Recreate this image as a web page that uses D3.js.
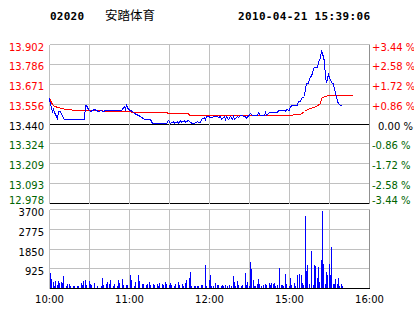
<!DOCTYPE html>
<html>
<head>
<meta charset="utf-8">
<script src="https://cdn.jsdelivr.net/npm/d3@7"></script>
<style>
body { margin: 0; background: #fff; }
svg { display: block; }
</style>
</head>
<body>
<svg id="chart" width="414" height="314"></svg>
<script>
const stockCode = "02020", stockName = "安踏体育", stamp = "2010-04-21 15:39:06";
const prevClose = 13.440;
const priceTicks = [13.902, 13.786, 13.671, 13.556, 13.440, 13.324, 13.209, 13.093, 12.978];
const pctTicks = ["+3.44 %", "+2.58 %", "+1.72 %", "+0.86 %", "0.00 %", "-0.86 %", "-1.72 %", "-2.58 %", "-3.44 %"];
const volTicks = [3700, 2775, 1850, 925];
const timeTicks = ["10:00", "11:00", "12:00", "15:00", "16:00"];

// last price, minute points
const priceTimes = ["10:00","10:01","10:02","10:03","10:04","10:06","10:07","10:08","10:09","10:11","10:12","10:26","10:27","10:28","10:29","10:31","10:34","10:37","10:39","10:40","10:43","10:54","10:56","10:57","10:58","10:59",
  "11:02","11:04","11:08","11:11","11:16","11:17","11:28","11:29","11:31","11:33","11:34","11:36","11:37","11:38","11:39","11:41","11:42","11:43","11:44","11:46","11:47","11:49","11:51","11:52","11:53","11:54","11:56","11:57","11:58",
  "12:02","12:03","12:06","12:07","12:08","12:09","12:11","12:12","12:13","12:14","12:16","12:17","12:18","12:19","12:21","12:22","12:23","12:27","12:28",
  "14:31","14:32","14:36","14:37","14:38","14:41","14:42","14:43","14:45","14:51","14:52","14:56","14:57","14:58",
  "15:00","15:01","15:02","15:06","15:07","15:08","15:09","15:11","15:12","15:13","15:14","15:15","15:16","15:17","15:18","15:19","15:21","15:22","15:23","15:24","15:25","15:26","15:27","15:28","15:29","15:30","15:31","15:32","15:33","15:34","15:35","15:36","15:37","15:38","15:39"];
const prices = [13.587,13.556,13.513,13.523,13.506,13.471,13.511,13.511,13.494,13.469,13.465,13.465,13.546,13.546,13.523,13.511,13.523,13.511,13.519,13.511,13.519,13.519,13.542,13.523,13.546,13.523,
  13.513,13.500,13.482,13.469,13.465,13.442,13.442,13.461,13.442,13.455,13.442,13.455,13.442,13.461,13.447,13.461,13.447,13.455,13.461,13.447,13.442,13.442,13.455,13.447,13.447,13.469,13.475,13.469,13.481,
  13.478,13.484,13.484,13.475,13.484,13.465,13.484,13.469,13.484,13.469,13.484,13.469,13.484,13.469,13.484,13.475,13.488,13.484,13.471,
  13.500,13.490,13.490,13.504,13.490,13.490,13.504,13.490,13.506,13.506,13.519,13.519,13.510,13.523,
  13.519,13.542,13.548,13.548,13.568,13.568,13.587,13.597,13.645,13.674,13.674,13.703,13.713,13.732,13.761,13.771,13.771,13.800,13.829,13.866,13.848,13.805,13.713,13.684,13.727,13.713,13.693,13.674,13.674,13.640,13.597,13.568,13.558,13.548,13.548];

// average price
const avgTimes = ["10:00","10:02","10:04","10:07","10:09","10:13","10:20","11:00","11:02","11:28","11:29","11:44","11:45","15:00","15:05","15:08","15:11","15:12","15:16","15:20","15:23","15:24","15:26","15:30","15:47"];
const avgPrices = [13.587,13.552,13.542,13.533,13.529,13.523,13.517,13.513,13.508,13.508,13.499,13.499,13.491,13.491,13.493,13.495,13.510,13.519,13.529,13.539,13.558,13.587,13.600,13.606,13.606];

// volume per trading minute, starting 10:00
const volumes = [680,440,300,110,350,160,350,240,285,240,
  540,0,110,205,205,110,0,110,110,0, 110,110,0,250,160,350,395,160,0,350,
  205,160,0,250,0,110,0,0,110,490, 160,0,205,300,205,395,0,110,205,0,
  110,395,250,0,440,160,0,160,160,0, 630,395,0,110,300,0,630,350,0,205,
  205,0,160,205,300,160,0,205,160,0, 205,110,250,0,205,160,300,205,0,160,
  250,160,0,110,205,0,300,160,0,205, 110,250,395,0,490,727,110,0,110,110,
  95,95,0,142,142,0,1090,95,0,380, 616,95,95,0,237,142,142,0,95,142,
  95,142,0,95,142,0,95,569,284,95, 332,142,0,95,142,0,711,142,284,95,
  1232,900,380,95,95,190,427,190,95,0, 142,190,142,0,237,142,237,190,237,95,
  142,0,948,142,142,95,664,190,0,95, 474,142,0,237,95,616,0,664,616,237,
  142,3365,806,1090,190,0,1754,142,1090,1043, 474,995,284,1327,3602,1138,190,758,616,1138,
  616,1943,190,190,427,190,474,95,190,95];

const red = "#ff0000", green = "#006400", grid = "#c0c0c0";
const px = v => Math.round(v) + 0.5;

function minuteOf(t) {
  const [h, m] = t.split(":").map(Number);
  const min = h * 60 + m;
  return min <= 750 ? min - 600 : 150 + (min - 870);
}

const svg = d3.select("#chart");

const x = d3.scaleLinear().domain([0, 240]).range([49, 369]);
const y = d3.scaleLinear().domain([12.978, 13.902]).range([203, 44]);
const yv = d3.scaleLinear().domain([0, 3700]).range([288, 209]);

const colorOf = v => v > prevClose ? red : (v < prevClose ? green : "#000");

// header
svg.append("text").attr("x", 50).attr("y", 20)
  .attr("font-family", "DejaVu Sans Mono").attr("font-weight", "bold").attr("font-size", 11)
  .attr("textLength", 34).text(stockCode);
svg.append("text").attr("x", 105).attr("y", 19.5)
  .attr("font-family", "Noto Sans CJK SC").attr("font-size", 12.5).text(stockName);
svg.append("text").attr("x", 238).attr("y", 20)
  .attr("font-family", "DejaVu Sans Mono").attr("font-weight", "bold").attr("font-size", 11)
  .attr("textLength", 132).text(stamp);

// grids
const g = svg.append("g").attr("shape-rendering", "crispEdges");
const vLines = d3.range(0, 241, 30);

g.selectAll(".hp").data(priceTicks).enter().append("line")
  .attr("x1", px(x(0))).attr("x2", px(x(240)))
  .attr("y1", d => px(y(d))).attr("y2", d => px(y(d)))
  .attr("stroke", (d, i) => (d === prevClose || i === priceTicks.length - 1) ? "#000" : grid);

g.selectAll(".hv").data(volTicks).enter().append("line")
  .attr("x1", px(x(0))).attr("x2", px(x(240)))
  .attr("y1", d => px(yv(d))).attr("y2", d => px(yv(d)))
  .attr("stroke", grid);

[[y.range()[1], y.range()[0]], [yv.range()[1], yv.range()[0]]].forEach(([t, b]) => {
  g.selectAll(null).data(vLines).enter().append("line")
    .attr("x1", d => px(x(d))).attr("x2", d => px(x(d)))
    .attr("y1", px(t)).attr("y2", px(b))
    .attr("stroke", d => d === 240 ? "#909090" : grid);
});

// volume bars
g.selectAll(".bar").data(volumes).enter().append("rect")
  .attr("x", (d, i) => Math.round(x(i)) + 1)
  .attr("width", 1)
  .attr("y", d => Math.round(yv(d)))
  .attr("height", d => Math.round(yv(0)) - Math.round(yv(d)))
  .attr("fill", "#0000ff");

g.append("line").attr("x1", px(x(0))).attr("x2", px(x(240)))
  .attr("y1", px(yv(0))).attr("y2", px(yv(0))).attr("stroke", "#000");

// price lines
const avgLine = d3.line().x((d, i) => px(x(minuteOf(avgTimes[i])))).y(d => px(y(d)));
const priceLine = d3.line().x((d, i) => px(x(minuteOf(priceTimes[i])))).y(d => px(y(d)));

g.append("path").attr("d", avgLine(avgPrices)).attr("fill", "none").attr("stroke", red);
g.append("path").attr("d", priceLine(prices)).attr("fill", "none").attr("stroke", "#0000ff");

// left price labels
const last = priceTicks.length - 1;
const labY = (d, i) => i === 0 ? px(y(d)) + 6.5 : (i === last ? px(y(d)) : px(y(d)) + 5);
svg.selectAll(".pl").data(priceTicks).enter().append("text")
  .attr("x", 44).attr("y", labY)
  .attr("text-anchor", "end")
  .attr("font-family", "DejaVu Sans").attr("font-size", 10)
  .attr("fill", colorOf)
  .text(d => d.toFixed(3));

svg.selectAll(".pr").data(priceTicks).enter().append("text")
  .attr("x", (d, i) => d === prevClose ? 378 : 372).attr("y", labY)
  .attr("font-family", "DejaVu Sans").attr("font-size", 10)
  .attr("fill", colorOf)
  .text((d, i) => pctTicks[i]);

// volume labels
svg.selectAll(".vl").data(volTicks).enter().append("text")
  .attr("x", 44).attr("y", d => px(yv(d)) + 6.5)
  .attr("text-anchor", "end")
  .attr("font-family", "DejaVu Sans").attr("font-size", 10)
  .attr("fill", "#000")
  .text(d => d);

// time axis
const axis = svg.append("g").attr("transform", "translate(0," + 293 + ")")
  .call(d3.axisBottom(x).tickValues(timeTicks.map(minuteOf)).tickFormat((d, i) => timeTicks[i]).tickSize(0));
axis.select(".domain").remove();
axis.selectAll("text").attr("font-family", "DejaVu Sans").attr("font-size", 10).attr("fill", "#000").attr("dy", "0.71em");
</script>
</body>
</html>
